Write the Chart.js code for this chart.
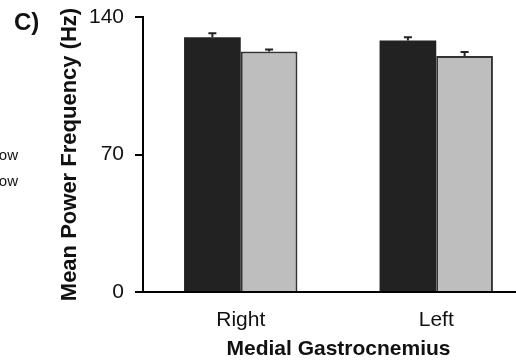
<!DOCTYPE html>
<html>
<head>
<meta charset="utf-8">
<script src="https://cdn.jsdelivr.net/npm/chart.js@4"></script>
<style>
  html, body { margin: 0; padding: 0; background: #fff; overflow: hidden; }
  #wrap { width: 534px; height: 361px; }
</style>
</head>
<body>
<div id="wrap"><canvas id="chart"></canvas></div>
<script>
const categories = ['Right', 'Left'];
const darkValues = [129.7, 128.0];
const darkErrors = [2.0, 1.7];
const lightValues = [122.5, 120.2];
const lightErrors = [1.0, 2.0];
const yTicks = [0, 70, 140];

const FONT = "'Liberation Sans', Arial, sans-serif";

// error bars, drawn upward from each bar top
const errorBars = {
    id: 'errorBars',
    afterDatasetsDraw(chart) {
        const ctx = chart.ctx;
        const y = chart.scales.y;
        ctx.save();
        ctx.strokeStyle = '#222';
        ctx.lineWidth = 2;
        chart.data.datasets.forEach((ds, i) => {
            const meta = chart.getDatasetMeta(i);
            meta.data.forEach((bar, j) => {
                const top = y.getPixelForValue(ds.data[j] + ds.errors[j]);
                ctx.beginPath();
                ctx.moveTo(bar.x, bar.y);
                ctx.lineTo(bar.x, top);
                ctx.moveTo(bar.x - 4, top);
                ctx.lineTo(bar.x + 4, top);
                ctx.stroke();
            });
        });
        ctx.restore();
    }
};

// panel letter and the clipped legend text from the neighbouring panel
const panelText = {
    id: 'panelText',
    afterDraw(chart) {
        const ctx = chart.ctx;
        ctx.save();
        ctx.fillStyle = '#111';
        ctx.textBaseline = 'alphabetic';
        ctx.textAlign = 'left';
        ctx.font = 'bold 24px ' + FONT;
        ctx.fillText('C)', 14, 30);
        ctx.font = '15px ' + FONT;
        ctx.textAlign = 'right';
        ctx.fillText('ow', 18, 160);
        ctx.fillText('ow', 18, 186);
        ctx.restore();
    }
};

new Chart(document.getElementById('chart'), {
    type: 'bar',
    data: {
        labels: categories,
        datasets: [
            {
                label: 'Dark',
                data: darkValues,
                errors: darkErrors,
                backgroundColor: '#222222',
                borderWidth: 0,
                barPercentage: 1,
                categoryPercentage: 0.58
            },
            {
                label: 'Light',
                data: lightValues,
                errors: lightErrors,
                backgroundColor: '#bebebe',
                borderColor: '#333333',
                borderWidth: 2,
                barPercentage: 1,
                categoryPercentage: 0.58
            }
        ]
    },
    options: {
        responsive: true,
        maintainAspectRatio: false,
        animation: false,
        layout: { padding: { top: 17, left: 0, right: 0, bottom: 0 } },
        plugins: {
            legend: { display: false },
            tooltip: { enabled: false }
        },
        scales: {
            x: {
                grid: { display: false, drawTicks: false },
                border: { display: true, color: '#000', width: 2 },
                ticks: { color: '#111', font: { family: FONT, size: 21 }, padding: 16 },
                title: {
                    display: true,
                    text: 'Medial Gastrocnemius',
                    color: '#111',
                    font: { family: FONT, size: 21, weight: 'bold' },
                    padding: { top: 0, bottom: -1 }
                },
                afterFit: (s) => { s.height = 69; }
            },
            y: {
                min: 0,
                max: 140,
                afterBuildTicks: (s) => { s.ticks = yTicks.map(v => ({ value: v })); },
                grid: { drawOnChartArea: false, drawTicks: true, tickLength: 8, color: '#000', lineWidth: 2 },
                border: { display: true, color: '#000', width: 2 },
                ticks: { color: '#111', font: { family: FONT, size: 21 }, padding: 11 },
                title: {
                    display: true,
                    text: 'Mean Power Frequency (Hz)',
                    color: '#111',
                    font: { family: FONT, size: 22, weight: 'bold' },
                    padding: { top: 57, bottom: 0 }
                },
                afterFit: (s) => {
                    s.width = 143;
                    s.paddingTop = 0;
                    s.paddingBottom = 0;
                }
            }
        }
    },
    plugins: [errorBars, panelText]
});
</script>
</body>
</html>
